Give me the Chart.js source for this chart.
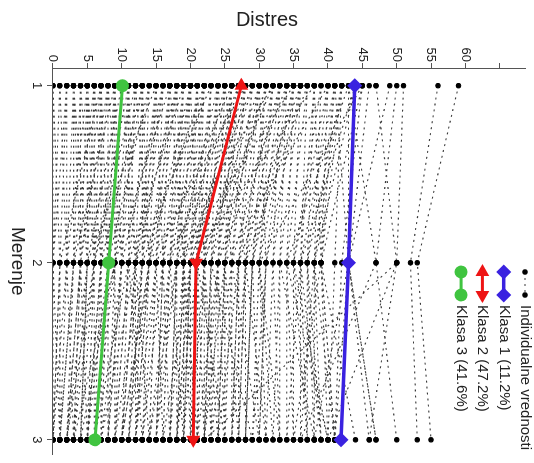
<!DOCTYPE html>
<html lang="sr">
<head>
<meta charset="utf-8">
<title>Distres po merenjima</title>
<script src="https://cdn.jsdelivr.net/npm/chart.js@4.4.1/dist/chart.umd.min.js"></script>
<style>
  html, body { margin: 0; padding: 0; background: #fff; overflow: hidden; }
  /* grafik se crta uspravno pa se okrece za 90 stepeni */
  #wrap { position: absolute; left: 0; top: 0; width: 463px; height: 534px;
          transform-origin: 0 0; transform: translate(534px, 0) rotate(90deg); }
</style>
</head>
<body>
<div id="wrap"><canvas id="distres" width="463" height="534"></canvas></div>
<script>
// merenja i podeoci ose distresa
const merenja = [1, 2, 3];
const distresTicks = [0, 5, 10, 15, 20, 25, 30, 35, 40, 45, 50, 55, 60, 65];
const distresLabels = ['0', '5', '10', '15', '20', '25', '30', '35', '40', '45', '50', '55', '60', ''];

// proseci klasa
const klasa1 = [43.9, 43.0, 41.9];
const klasa2 = [27.4, 20.8, 20.4];
const klasa3 = [10.1, 8.1, 6.1];
const nazivi = ['Individualne vrednosti', 'Klasa 1 (11.2%)', 'Klasa 2 (47.2%)', 'Klasa 3 (41.6%)'];

// individualne vrednosti, ista pozicija u nizu = ista osoba
const prvo = [
  0, 1, 2, 3, 4, 5, 6, 7, 8, 9, 10, 11, 12, 13, 14, 15, 16, 17, 18, 19, 20, 21, 22,
  4, 6, 8, 10, 12, 14, 16, 18, 20, 6, 8, 10, 12, 3, 5, 7, 9, 11, 13, 15, 17, 19, 9, 11, 13, 7, 5, 15, 18,
  1, 2, 3, 4, 5, 6, 7, 8, 9, 10, 11, 12, 13, 14, 15, 16, 17, 0, 2, 3, 5, 7, 9, 11, 13, 15, 17, 19, 21, 23,
  16, 17, 18, 19, 20, 21, 22, 23, 24, 25, 26, 27, 28, 29, 30, 31, 32, 33, 34, 35, 36, 37, 38, 39, 40, 41, 42, 43, 44, 45,
  20, 22, 24, 26, 28, 30, 32, 34, 36, 38, 25, 27, 29, 31, 33, 35, 23, 21, 19, 17, 26, 28, 30, 32, 24, 22, 35, 40, 37,
  18, 19, 20, 21, 22, 23, 24, 25, 26, 27, 28, 29, 30, 31, 32, 33, 34, 35, 36, 37, 38, 39, 40, 41, 42,
  20, 22, 24, 26, 28, 30, 32, 34, 36, 25, 27, 29, 31, 33, 35,
  59, 56, 51, 50, 49, 47, 45, 44, 43, 42, 41, 40, 38, 36, 47,
  44, 43, 45, 42, 46, 41
];
const drugo = [
  0, 0, 1, 2, 3, 4, 5, 4, 6, 7, 8, 9, 10, 9, 11, 12, 13, 14, 15, 16, 17, 18, 20,
  6, 3, 10, 5, 14, 8, 10, 12, 14, 8, 4, 12, 6, 5, 2, 7, 9, 11, 7, 16, 9, 11, 3, 6, 13, 1, 7, 5, 19,
  2, 2, 4, 4, 5, 6, 6, 8, 8, 9, 10, 11, 12, 13, 14, 15, 16, 1, 0, 3, 6, 8, 10, 12, 14, 13, 15, 17, 19, 21,
  12, 15, 14, 17, 16, 18, 19, 20, 21, 22, 23, 24, 25, 26, 27, 28, 29, 30, 31, 32, 33, 34, 36, 35, 37, 38, 39, 34, 36, 30,
  21, 13, 18, 15, 20, 22, 16, 24, 27, 20, 28, 17, 19, 23, 26, 18, 12, 22, 11, 19, 25, 14, 31, 21, 26, 17, 29, 25, 28,
  17, 18, 19, 20, 21, 22, 23, 24, 24, 25, 26, 27, 28, 29, 30, 32, 33, 34, 35, 36, 37, 38, 39, 36, 38,
  18, 20, 22, 21, 23, 25, 27, 29, 31, 19, 20, 22, 24, 28, 30,
  53, 52, 50, 47, 43, 50, 39, 38, 47, 37, 43, 35, 39, 33, 50,
  43, 43, 42, 41, 43, 39
];
const trece = [
  0, 0, 0, 1, 2, 2, 3, 3, 4, 5, 6, 6, 7, 8, 9, 10, 9, 11, 12, 13, 14, 15, 16,
  5, 1, 7, 4, 12, 5, 8, 7, 10, 8, 2, 10, 3, 4, 0, 6, 3, 9, 5, 17, 4, 6, 1, 2, 11, 0, 7, 2, 18,
  1, 3, 3, 5, 4, 5, 6, 7, 8, 9, 8, 10, 12, 11, 13, 14, 15, 1, 1, 2, 6, 7, 9, 11, 13, 12, 13, 16, 17, 18,
  10, 14, 12, 16, 15, 17, 20, 18, 19, 21, 22, 23, 24, 25, 26, 27, 28, 31, 30, 33, 32, 35, 34, 37, 38, 36, 41, 40, 39, 33,
  22, 11, 14, 16, 18, 20, 13, 21, 24, 19, 26, 15, 21, 29, 23, 17, 14, 24, 13, 21, 27, 10, 29, 25, 30, 19, 28, 22, 31,
  16, 18, 19, 20, 21, 22, 23, 22, 24, 25, 26, 27, 28, 30, 29, 31, 33, 34, 35, 36, 37, 38, 40, 37, 39,
  17, 19, 21, 20, 22, 24, 26, 28, 30, 18, 19, 23, 25, 27, 32,
  55, 53, 46, 50, 47, 40, 44, 41, 36, 39, 38, 40, 35, 38, 22,
  46, 41, 41, 40, 47, 41
];

const individualne = [];
prvo.forEach((v, i) => {
  individualne.push({x: merenja[0], y: v}, {x: merenja[1], y: drugo[i]}, {x: merenja[2], y: trece[i]});
  individualne.push({x: merenja[2], y: null}); // prekid linije izmedju osoba
});
const tacke = arr => merenja.map((m, i) => ({x: m, y: arr[i]}));

Chart.defaults.font.family = "'Liberation Sans', Arial, sans-serif";
Chart.defaults.color = '#222';

// legenda u gornjem desnom uglu, linija sa oznakama na oba kraja
const legendaPlugin = {
  id: 'legenda',
  afterDraw(chart) {
    const ctx = chart.ctx;
    const left = chart.chartArea.left + 204, right = left + 23, textX = right + 10;
    chart.data.datasets.forEach((ds, i) => {
      const y = 9 + i * 21.3;
      ctx.save();
      ctx.strokeStyle = ds.borderColor;
      ctx.lineWidth = ds.borderWidth;
      ctx.setLineDash(ds.borderDash || []);
      ctx.beginPath();
      ctx.moveTo(left, y);
      ctx.lineTo(right, y);
      ctx.stroke();
      ctx.setLineDash([]);
      ctx.fillStyle = ds.pointBackgroundColor;
      ctx.strokeStyle = ds.pointBorderColor;
      const rot = [].concat(ds.pointRotation || 0);
      [[left, rot[0]], [right, rot[rot.length - 1]]].forEach(([px, r]) => {
        Chart.helpers.drawPoint(ctx, {pointStyle: ds.pointStyle, radius: ds.pointRadius, rotation: r, borderWidth: 1}, px, y);
      });
      ctx.fillStyle = '#222';
      ctx.font = "15px 'Liberation Sans', Arial, sans-serif";
      ctx.textBaseline = 'middle';
      ctx.textAlign = 'left';
      ctx.fillText(ds.label, textX, y);
      ctx.restore();
    });
  }
};

new Chart(document.getElementById('distres'), {
  type: 'line',
  data: {
    datasets: [
      {
        label: nazivi[0],
        data: individualne,
        borderColor: '#3a3a3a',
        borderWidth: 1.1,
        borderDash: [2, 4],
        pointRadius: 2.2,
        pointStyle: 'circle',
        pointBackgroundColor: '#000',
        pointBorderColor: '#000',
        spanGaps: false,
        order: 10
      },
      {
        label: nazivi[1],
        data: tacke(klasa1),
        borderColor: '#3a22e0',
        borderWidth: 3.5,
        pointStyle: 'rectRot',
        pointRadius: 5,
        pointBackgroundColor: '#3a22e0',
        pointBorderColor: '#3a22e0',
        order: 1
      },
      {
        label: nazivi[2],
        data: tacke(klasa2),
        borderColor: '#ee1414',
        borderWidth: 3,
        pointStyle: 'triangle',
        pointRotation: [-90, 90, 90],
        pointRadius: 5,
        pointBackgroundColor: '#ee1414',
        pointBorderColor: '#ee1414',
        order: 2
      },
      {
        label: nazivi[3],
        data: tacke(klasa3),
        borderColor: '#40c440',
        borderWidth: 3,
        pointStyle: 'circle',
        pointRadius: 5,
        pointBackgroundColor: '#40c440',
        pointBorderColor: '#40c440',
        order: 3
      }
    ]
  },
  options: {
    responsive: false,
    animation: false,
    devicePixelRatio: 1,
    layout: { padding: 0 },
    plugins: {
      legend: { display: false },
      tooltip: { enabled: false },
      title: {
        display: true,
        position: 'left',
        text: 'Distres',
        font: { size: 20, weight: 'normal' },
        color: '#222',
        padding: { top: 8, bottom: 2 }
      }
    },
    scales: {
      x: {
        type: 'linear',
        position: 'bottom',
        min: 0.9,
        max: 3.083,
        afterBuildTicks: s => { s.ticks = merenja.map(v => ({value: v})); },
        afterFit: s => { s.height = 53; },
        grid: { drawOnChartArea: false, tickLength: 6, color: '#555' },
        border: { color: '#555' },
        ticks: { font: { size: 13 }, padding: 3, maxRotation: 0 },
        title: { display: true, text: 'Merenje', font: { size: 19 }, padding: { top: 0, bottom: 6 } }
      },
      y: {
        type: 'linear',
        position: 'left',
        min: 0,
        max: 68.7,
        afterBuildTicks: s => { s.ticks = distresTicks.map(v => ({value: v})); },
        afterFit: s => { s.width = 34; },
        grid: { drawOnChartArea: false, tickLength: 5, color: '#555' },
        border: { color: '#555' },
        ticks: { font: { size: 13 }, padding: 1, callback: (v, i) => distresLabels[i] }
      }
    }
  },
  plugins: [legendaPlugin]
});
</script>
</body>
</html>
